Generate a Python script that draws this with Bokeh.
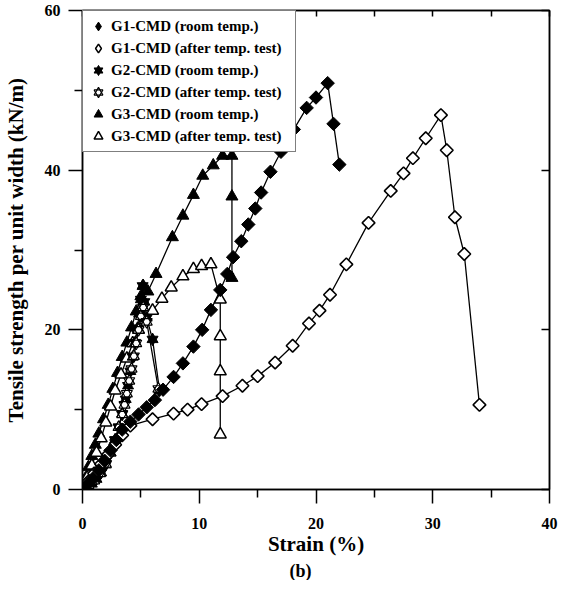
import numpy as np
from bokeh.plotting import figure
from bokeh.models import Range1d, FixedTicker, LinearAxis, Legend, LegendItem, Title
from bokeh.embed import file_html
from bokeh.resources import INLINE

# ---------------- data ----------------
g1_room_x = [0, 0.4, 0.9, 1.4, 1.9, 2.4, 2.9, 3.4, 4.1, 4.8, 5.5, 6.2, 6.9, 7.8, 8.6, 9.5, 10.25, 11.0,
             11.8, 12.4, 12.9, 13.6, 14.2, 14.8, 15.3, 16.1, 17.0, 18.1, 19.2, 20.0, 21.0, 21.5, 22.0]
g1_room_y = [0, 0.6, 1.4, 2.4, 3.6, 4.9, 6.2, 7.5, 8.5, 9.4, 10.3, 11.2, 12.5, 14.1, 15.8, 17.9, 20.0, 22.5,
             25.0, 27.0, 29.1, 31.1, 33.2, 35.2, 37.2, 39.8, 42.3, 45.1, 47.8, 49.1, 50.9, 45.8, 40.7]

g1_after_x = [0, 0.5, 1.0, 1.6, 2.2, 2.8, 3.4, 4.1, 6.0, 7.8, 9.0, 10.2, 12.0, 13.7, 15.0, 16.5, 18.0, 19.4,
              20.3, 21.2, 22.6, 24.5, 26.4, 27.5, 28.3, 29.4, 30.7, 31.2, 31.9, 32.7, 34.0]
g1_after_y = [0, 1.0, 2.0, 3.2, 4.4, 5.6, 6.8, 8.0, 8.8, 9.5, 10.0, 10.7, 11.7, 13.0, 14.2, 15.9, 18.0, 20.8,
              22.4, 24.4, 28.2, 33.4, 37.4, 39.6, 41.5, 44.0, 46.9, 42.5, 34.1, 29.5, 10.6]

g2_room_x = [0, 0.4, 0.8, 1.2, 1.6, 2.0, 2.4, 2.8, 3.1, 3.4, 3.7, 3.9, 4.1, 4.3, 4.5, 4.7, 4.85, 5.0,
             5.15, 5.3, 5.5, 6.0, 6.6]
g2_room_y = [0, 0.3, 0.7, 1.3, 2.1, 3.1, 4.6, 6.2, 7.8, 9.5, 11.3, 13.0, 14.8, 16.6, 18.4, 20.2, 22.0, 23.8,
             25.5, 23.5, 21.5, 18.8, 12.4]

g2_after_x = [0, 0.5, 1.0, 1.5, 2.0, 2.4, 2.8, 3.1, 3.4, 3.6, 3.8, 4.0, 4.2, 4.4, 4.6, 4.8, 5.0, 5.2, 5.5, 6.5]
g2_after_y = [0, 0.5, 1.1, 2.0, 3.2, 4.6, 6.2, 7.8, 9.4, 10.6, 12.0, 13.6, 15.1, 16.7, 18.3, 20.0, 21.7, 22.8,
              21.0, 12.6]

g3_room_x = [0, 0.25, 0.5, 0.8, 1.1, 1.4, 1.8, 2.2, 2.6, 3.0, 3.4, 3.8, 4.2, 4.6, 5.0, 5.2, 5.6, 6.3, 7.7,
             8.6, 9.5, 10.3, 11.2, 12.0, 12.8, 12.8, 12.8]
g3_room_y = [0, 1.4, 2.8, 4.2, 5.6, 7.0, 8.8, 10.6, 12.6, 14.6, 16.6, 18.4, 20.3, 22.3, 24.2, 25.5, 24.8,
             27.0, 31.6, 34.3, 36.9, 39.3, 40.6, 41.8, 41.8, 36.7, 26.5]

g3_after_x = [0, 0.4, 0.8, 1.2, 1.6, 2.0, 2.4, 2.8, 3.3, 3.8, 4.3, 4.8, 5.3, 6.0, 6.8, 7.6, 8.6, 9.5, 10.2,
              11.0, 11.8, 11.8, 11.8, 11.8]
g3_after_y = [0, 1.5, 3.0, 4.6, 6.4, 8.4, 10.4, 12.4, 14.4, 16.4, 18.3, 20.0, 21.2, 22.4, 23.9, 25.3, 26.7,
              27.6, 28.0, 28.2, 23.8, 19.2, 14.8, 6.9]

labels = ["G1-CMD (room temp.)", "G1-CMD (after temp. test)", "G2-CMD (room temp.)",
          "G2-CMD (after temp. test)", "G3-CMD (room temp.)", "G3-CMD (after temp. test)"]
x_major = [0, 10, 20, 30, 40]
x_minor = [5, 15, 25, 35]
y_major = [0, 20, 40, 60]
y_minor = [10, 30, 50]

FONT = "Liberation Serif"

p = figure(width=558, height=580, x_range=Range1d(0, 40), y_range=Range1d(0, 60),
           output_backend="svg", toolbar_location=None,
           min_border_left=77, min_border_top=10, min_border_right=9, min_border_bottom=10,
           x_axis_label="Strain (%)", y_axis_label="Tensile strength per unit width (kN/m)")
p.grid.visible = False
p.outline_line_color = "black"
p.outline_line_width = 1.5
p.background_fill_color = "white"
p.border_fill_color = "white"

for ax, maj, mnr in ((p.xaxis[0], x_major, x_minor), (p.yaxis[0], y_major, y_minor)):
    ax.ticker = FixedTicker(ticks=maj, minor_ticks=mnr)
    ax.major_tick_out = 14
    ax.major_tick_in = 0
    ax.minor_tick_out = 8
    ax.minor_tick_in = 0
    ax.axis_line_width = 1.5
    ax.major_tick_line_width = 1.5
    ax.minor_tick_line_width = 1.5
    ax.major_label_text_font = FONT
    ax.major_label_text_font_style = "bold"
    ax.major_label_text_font_size = "16px"
    ax.major_label_text_color = "black"
    ax.axis_label_text_font = FONT
    ax.axis_label_text_font_style = "bold"
    ax.axis_label_text_font_size = "21px"
    ax.axis_label_text_color = "black"
p.xaxis[0].major_label_standoff = 14
p.xaxis[0].axis_label_standoff = 0
p.yaxis[0].major_label_standoff = 8
p.yaxis[0].axis_label_standoff = 14

top = LinearAxis(ticker=FixedTicker(ticks=x_major + x_minor), major_tick_in=6, major_tick_out=0,
                 minor_tick_in=0, minor_tick_out=0, major_label_text_font_size="1px",
                 major_label_text_color=None, major_label_standoff=0,
                 axis_line_width=1.5, major_tick_line_width=1.5)
right = LinearAxis(ticker=FixedTicker(ticks=y_major), major_tick_in=8, major_tick_out=0,
                   minor_tick_in=0, minor_tick_out=0, major_label_text_font_size="1px",
                   major_label_text_color=None, major_label_standoff=0,
                   axis_line_width=1.5, major_tick_line_width=1.5)
p.add_layout(top, "above")
p.add_layout(right, "right")

LW = 1.3
# lines
for xs, ys in ((g3_room_x, g3_room_y), (g3_after_x, g3_after_y), (g2_room_x, g2_room_y),
               (g2_after_x, g2_after_y), (g1_after_x, g1_after_y), (g1_room_x, g1_room_y)):
    p.line(xs, ys, line_color="black", line_width=LW)

# markers
r3r = p.scatter(g3_room_x, g3_room_y, marker="triangle", size=12, fill_color="black", line_color="black")
r3a = p.scatter(g3_after_x, g3_after_y, marker="triangle", size=12, fill_color="white", line_color="black",
                line_width=1.5)
r2r_a = p.scatter(g2_room_x, g2_room_y, marker="triangle", size=11, fill_color="black", line_color="black")
r2r_b = p.scatter(g2_room_x, g2_room_y, marker="inverted_triangle", size=11, fill_color="black", line_color="black")
r2a_a = p.scatter(g2_after_x, g2_after_y, marker="triangle", size=11, fill_color="white", line_color="black",
                  line_width=1.2)
r2a_b = p.scatter(g2_after_x, g2_after_y, marker="inverted_triangle", size=11, fill_alpha=0, line_color="black",
                  line_width=1.2)
r1a = p.scatter(g1_after_x, g1_after_y, marker="square", size=9, angle=np.pi / 4, fill_color="white",
                line_color="black", line_width=1.6)
r1r = p.scatter(g1_room_x, g1_room_y, marker="square", size=9.5, angle=np.pi / 4, fill_color="black",
                line_color="black")

# legend proxies (zero size on the plot; the legend sizes its own glyphs)
l1r = p.scatter(g1_room_x[:1], g1_room_y[:1], marker="diamond", size=0, fill_color="black",
                line_color="black")
l1a = p.scatter(g1_after_x[:1], g1_after_y[:1], marker="diamond", size=0, fill_color="white",
                line_color="black", line_width=1.5)

legend = Legend(items=[
    LegendItem(label=labels[0], renderers=[l1r]),
    LegendItem(label=labels[1], renderers=[l1a]),
    LegendItem(label=labels[2], renderers=[r2r_a, r2r_b]),
    LegendItem(label=labels[3], renderers=[r2a_a, r2a_b]),
    LegendItem(label=labels[4], renderers=[r3r]),
    LegendItem(label=labels[5], renderers=[r3a]),
], location="top_left")
legend.margin = 0
legend.padding = 4
legend.spacing = 0
legend.glyph_height = 22
legend.glyph_width = 22
legend.label_height = 22
legend.label_width = 180
legend.label_standoff = 2
legend.label_text_font = FONT
legend.label_text_font_style = "bold"
legend.label_text_font_size = "15px"
legend.label_text_color = "black"
legend.border_line_color = "black"
legend.border_line_width = 1
legend.background_fill_color = "white"
legend.background_fill_alpha = 1
p.add_layout(legend, "center")

p.add_layout(Title(text="(b)", align="left", offset=207, text_font=FONT, text_font_style="bold",
                   text_font_size="18px", text_color="black", standoff=0, text_line_height=0.9), "below")

open("out.html", "w").write(file_html(p, INLINE))
